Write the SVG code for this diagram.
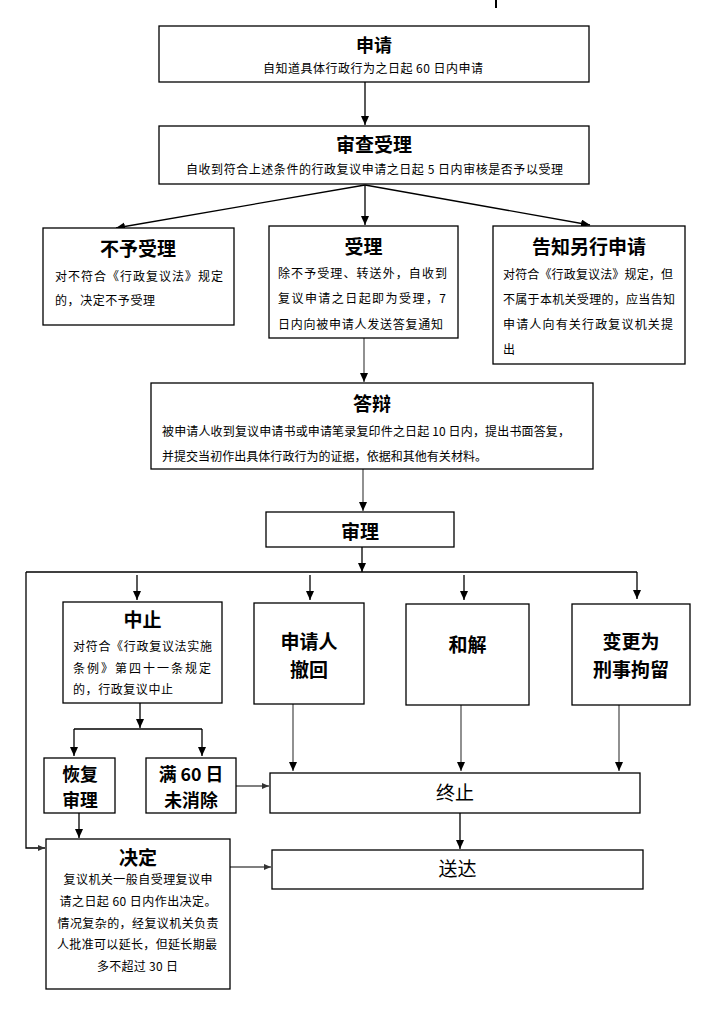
<svg xmlns="http://www.w3.org/2000/svg" width="717" height="1012" viewBox="0 0 717 1012">
<style>
.box{fill:#fff;stroke:#000;stroke-width:1.3}
.t{font-family:"Noto Sans CJK SC","Liberation Sans",sans-serif;font-weight:bold;font-size:19px;text-anchor:middle;dominant-baseline:central;fill:#000}
.tn{font-family:"Noto Sans CJK SC","Liberation Sans",sans-serif;font-size:19px;text-anchor:middle;dominant-baseline:central;fill:#000}
.b{font-family:"Noto Sans CJK SC","Liberation Sans",sans-serif;font-size:12px;dominant-baseline:central;fill:#000}
.c{text-anchor:middle}
.s18{font-size:17.8px}
.ln{fill:none;stroke:#000;stroke-width:1.3}
.lg{fill:none;stroke:#555;stroke-width:1.3}
.a{marker-end:url(#ah)}
.as{marker-end:url(#ahs)}
</style>
<defs>
<marker id="ah" markerUnits="userSpaceOnUse" markerWidth="10" markerHeight="10" refX="9" refY="4" orient="auto"><path d="M0,0 L9,4 L0,8 z" fill="#000"/></marker>
<marker id="ahs" markerUnits="userSpaceOnUse" markerWidth="8" markerHeight="8" refX="7" refY="3" orient="auto"><path d="M0,0 L7,3 L0,6 z" fill="#333"/></marker>
</defs>
<rect width="717" height="1012" fill="#fff"/>
<line x1="496" y1="0" x2="496" y2="8" stroke="#000" stroke-width="2"/>

<g id="connectors">
<path class="ln a" d="M365,82 V125"/>
<path class="ln a" d="M365,185 L116,228"/>
<path class="ln a" d="M365,185 V225"/>
<path class="ln a" d="M365,185 L590,225"/>
<path class="lg a" d="M364,338 V382"/>
<path class="lg a" d="M363,469 V511"/>
<path class="ln a" d="M362,547 V572"/>
<path class="ln" d="M26,572 H637"/>
<path class="ln a" d="M137,575 V600"/>
<path class="ln a" d="M310,575 V600"/>
<path class="ln a" d="M464,575 V600"/>
<path class="ln a" d="M637,572 V599"/>
<path class="ln as" d="M26,572 V848 H45"/>
<path class="ln a" d="M140,703 V728"/>
<path class="ln" d="M74,729 H202"/>
<path class="ln a" d="M74,729 V756"/>
<path class="ln a" d="M202,729 V756"/>
<path class="ln a" d="M79,813 V838"/>
<path class="lg as" d="M236,786 H269"/>
<path class="lg a" d="M293,704 V771"/>
<path class="lg a" d="M461,705 V771"/>
<path class="lg a" d="M619,705 V771"/>
<path class="ln a" d="M460,813 V849"/>
<path class="lg as" d="M230,867 H271"/>
</g>

<g id="n-shenqing">
<rect class="box" x="159" y="26" width="430" height="56"/>
<text class="t" x="374" y="44" style="font-size:18px">申请</text>
<text class="b c" x="373" y="67" textLength="220" lengthAdjust="spacing">自知道具体行政行为之日起 60 日内申请</text>
</g>

<g id="n-shencha">
<rect class="box" x="159" y="126" width="430" height="58"/>
<text class="t" x="374" y="143">审查受理</text>
<text class="b c" x="374.5" y="168" textLength="377" lengthAdjust="spacing">自收到符合上述条件的行政复议申请之日起 5 日内审核是否予以受理</text>
</g>

<g id="n-buyu">
<rect class="box" x="43" y="228" width="191" height="97"/>
<text class="t" x="138" y="247">不予受理</text>
<text class="b" x="55" y="275" textLength="168" lengthAdjust="spacing">对不符合《行政复议法》规定</text>
<text class="b" x="55" y="299" textLength="100" lengthAdjust="spacing">的，决定不予受理</text>
</g>

<g id="n-shouli">
<rect class="box" x="269" y="226" width="189" height="112"/>
<text class="t" x="363.5" y="245">受理</text>
<text class="b" x="278" y="272" textLength="169" lengthAdjust="spacing">除不予受理、转送外，自收到</text>
<text class="b" x="278" y="297" textLength="168" lengthAdjust="spacing">复议申请之日起即为受理，7</text>
<text class="b" x="278" y="323" textLength="165" lengthAdjust="spacing">日内向被申请人发送答复通知</text>
</g>

<g id="n-gaozhi">
<rect class="box" x="493" y="226" width="192" height="138"/>
<text class="t" x="589" y="245">告知另行申请</text>
<text class="b" x="503" y="273" textLength="170" lengthAdjust="spacing">对符合《行政复议法》规定，但</text>
<text class="b" x="503" y="298" textLength="172" lengthAdjust="spacing">不属于本机关受理的，应当告知</text>
<text class="b" x="503" y="323" textLength="170" lengthAdjust="spacing">申请人向有关行政复议机关提</text>
<text class="b" x="503" y="348">出</text>
</g>

<g id="n-dabian">
<rect class="box" x="151" y="383" width="442" height="86"/>
<text class="t" x="372" y="402">答辩</text>
<text class="b" x="162" y="430" textLength="408" lengthAdjust="spacing">被申请人收到复议申请书或申请笔录复印件之日起 10 日内，提出书面答复，</text>
<text class="b" x="162" y="455" textLength="325" lengthAdjust="spacing">并提交当初作出具体行政行为的证据，依据和其他有关材料。</text>
</g>

<g id="n-shenli">
<rect class="box" x="266" y="512" width="188" height="35"/>
<text class="t" x="360" y="530">审理</text>
</g>

<g id="n-zhongzhi">
<rect class="box" x="63" y="602" width="159" height="101"/>
<text class="t" x="142.5" y="618">中止</text>
<text class="b" x="73" y="645" textLength="139" lengthAdjust="spacing">对符合《行政复议法实施</text>
<text class="b" x="73" y="667" textLength="138" lengthAdjust="spacing">条例》第四十一条规定</text>
<text class="b" x="73" y="688" textLength="100" lengthAdjust="spacing">的，行政复议中止</text>
</g>

<g id="n-chehui">
<rect class="box" x="254" y="603" width="110" height="101"/>
<text class="t" x="309" y="640">申请人</text>
<text class="t" x="309" y="668">撤回</text>
</g>

<g id="n-hejie">
<rect class="box" x="406" y="604" width="123" height="101"/>
<text class="t" x="467.5" y="643">和解</text>
</g>

<g id="n-biangeng">
<rect class="box" x="572" y="604" width="118" height="101"/>
<text class="t" x="631" y="640">变更为</text>
<text class="t" x="631" y="668">刑事拘留</text>
</g>

<g id="n-huifu">
<rect class="box" x="44" y="758" width="71" height="55"/>
<text class="t s18" x="80" y="773">恢复</text>
<text class="t s18" x="80" y="799">审理</text>
</g>

<g id="n-man60">
<rect class="box" x="146" y="758" width="90" height="55"/>
<text class="t s18" x="191" y="773">满 60 日</text>
<text class="t s18" x="191" y="799">未消除</text>
</g>

<g id="n-zhongzhi2">
<rect class="box" x="270" y="773" width="370" height="40"/>
<text class="tn" x="455" y="791">终止</text>
</g>

<g id="n-jueding">
<rect class="box" x="46" y="839" width="184" height="150"/>
<text class="t" x="138" y="856">决定</text>
<text class="b c" x="138" y="878" textLength="149" lengthAdjust="spacing">复议机关一般自受理复议申</text>
<text class="b c" x="138" y="900" textLength="157" lengthAdjust="spacing">请之日起 60 日内作出决定。</text>
<text class="b c" x="138" y="922" textLength="161" lengthAdjust="spacing">情况复杂的，经复议机关负责</text>
<text class="b c" x="137" y="943" textLength="160" lengthAdjust="spacing">人批准可以延长，但延长期最</text>
<text class="b c" x="137.5" y="965" textLength="81" lengthAdjust="spacing">多不超过 30 日</text>
</g>

<g id="n-songda">
<rect class="box" x="272" y="850" width="371" height="39"/>
<text class="tn" x="457.5" y="867">送达</text>
</g>
</svg>
